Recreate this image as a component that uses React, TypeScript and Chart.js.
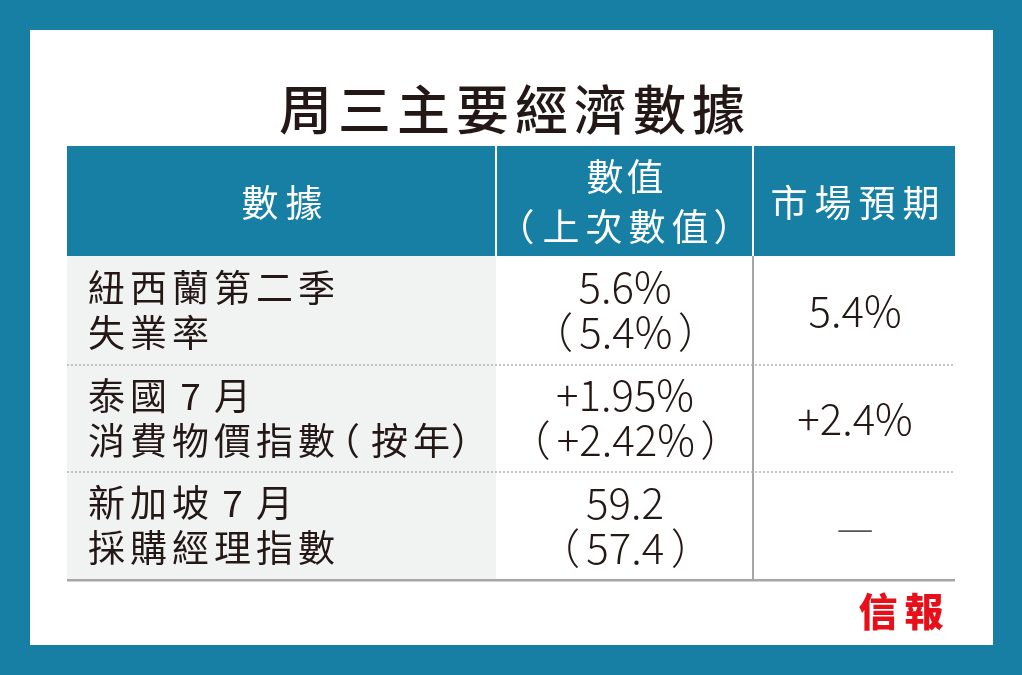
import React, { useEffect, useRef } from "react";
import { Chart, registerables } from "chart.js";

Chart.register(...registerables);

// ---- data ----
const title = "周三主要經濟數據";
const headerLabels = ["數據", "數值", "（上次數值）", "市場預期"];
const indicatorLine1 = ["紐西蘭第二季", "泰國7月", "新加坡7月"];
const indicatorLine2 = ["失業率", "消費物價指數（按年）", "採購經理指數"];
const actualValues = ["5.6%", "+1.95%", "59.2"];
const previousValues = ["（5.4%）", "（+2.42%）", "（57.4）"];
const forecastValues = ["5.4%", "+2.4%", "—"];
const sourceLabel = "信報";

// ---- style ----
const TEAL = "#167fa3";
const INK = "#231815";
const CJK = "'Noto Sans CJK TC', 'Noto Sans CJK SC', sans-serif";

type ParenOpts = { openBefore: number; openAfter: number; closeBefore: number };

function drawSpaced(
  ctx: CanvasRenderingContext2D,
  text: string,
  x: number,
  y: number,
  size: number,
  spacing: number,
  align: "left" | "center",
  po: ParenOpts = { openBefore: 13, openAfter: 12, closeBefore: 2 }
) {
  ctx.textAlign = "left";
  const chars = Array.from(text);
  const placed: { ch: string; x: number }[] = [];
  let prevEnd = 0;
  let noSpace = true;
  chars.forEach((ch, i) => {
    const m = ctx.measureText(ch);
    if (ch === "（" || ch === "）") {
      const inkW = m.actualBoundingBoxLeft + m.actualBoundingBoxRight;
      const before = i === 0 ? 0 : ch === "（" ? po.openBefore : po.closeBefore;
      const inkL = prevEnd + before;
      placed.push({ ch, x: inkL + m.actualBoundingBoxLeft });
      prevEnd = inkL + inkW + (ch === "（" ? po.openAfter : 0);
      noSpace = true;
    } else {
      const adv = ch.charCodeAt(0) < 128 ? size : m.width;
      const boxStart = prevEnd + (noSpace ? 0 : spacing);
      placed.push({ ch, x: boxStart + (adv - m.width) / 2 });
      prevEnd = boxStart + adv;
      noSpace = false;
    }
  });
  const start = align === "center" ? x - prevEnd / 2 : x;
  placed.forEach((p) => ctx.fillText(p.ch, start + p.x, y));
}

function drawNumber(ctx: CanvasRenderingContext2D, text: string, cx: number, y: number, gap: number) {
  ctx.textAlign = "left";
  if (!text.startsWith("（")) {
    const m = ctx.measureText(text);
    ctx.fillText(text, cx - m.width / 2, y);
    return;
  }
  const inner = text.slice(1, -1);
  const mo = ctx.measureText("（");
  const mi = ctx.measureText(inner);
  const mc = ctx.measureText("）");
  const wo = mo.actualBoundingBoxLeft + mo.actualBoundingBoxRight;
  const wi = mi.actualBoundingBoxLeft + mi.actualBoundingBoxRight;
  const wc = mc.actualBoundingBoxLeft + mc.actualBoundingBoxRight;
  const total = wo + gap + wi + gap + wc;
  let ink = cx - total / 2;
  ctx.fillText("（", ink + mo.actualBoundingBoxLeft, y);
  ink += wo + gap;
  ctx.fillText(inner, ink + mi.actualBoundingBoxLeft, y);
  ink += wi + gap;
  ctx.fillText("）", ink + mc.actualBoundingBoxLeft, y);
}

const tablePlugin = {
  id: "tablePlugin",
  beforeDraw(chart: any) {
    const ctx: CanvasRenderingContext2D = chart.ctx;
    const W = chart.width;
    const H = chart.height;
    ctx.save();
    // frame
    ctx.fillStyle = TEAL;
    ctx.fillRect(0, 0, W, H);
    ctx.fillStyle = "#ffffff";
    ctx.fillRect(30, 30, 963, 615);

    const L = 67, R = 955, C1 = 496, C2 = 753;
    const HT = 146, HB = 256;
    const rowTops = [256, 365, 472];
    const BOT = 580;

    // header
    ctx.fillStyle = TEAL;
    ctx.fillRect(L, HT, R - L, HB - HT);
    ctx.fillStyle = "#ffffff";
    ctx.fillRect(C1 - 1, HT, 2, HB - HT);
    ctx.fillRect(C2 - 1, HT, 2, HB - HT);

    // first column bg
    ctx.fillStyle = "#f1f2f2";
    ctx.fillRect(L, HB, C1 - L, BOT - HB);

    // dotted separators
    ctx.fillStyle = "#b0b0b0";
    [rowTops[1], rowTops[2]].forEach((yy) => {
      for (let xx = L; xx < R; xx += 4) {
        ctx.beginPath();
        ctx.arc(xx + 1, yy, 1, 0, Math.PI * 2);
        ctx.fill();
      }
    });
    // vertical line & bottom
    ctx.fillStyle = "#a6a6a6";
    ctx.fillRect(C2 - 1, HB, 2, BOT - HB);
    ctx.fillRect(L, BOT - 1, R - L, 2.5);

    ctx.textBaseline = "middle";
    // title
    ctx.fillStyle = INK;
    ctx.font = `500 53px ${CJK}`;
    drawSpaced(ctx, title, 512, 110, 53, 6, "center");

    // header text
    ctx.fillStyle = "#ffffff";
    ctx.font = `400 37px ${CJK}`;
    drawSpaced(ctx, headerLabels[0], 282, 203, 37, 7, "center");
    drawSpaced(ctx, headerLabels[1], 625, 177, 37, 3, "center");
    drawSpaced(ctx, headerLabels[2], 624, 227, 37, 6, "center", { openBefore: 0, openAfter: 9, closeBefore: 6 });
    drawSpaced(ctx, headerLabels[3], 855, 203, 37, 7, "center");

    // body
    const rowH = [109, 107, 108];
    indicatorLine1.forEach((_, i) => {
      const top = rowTops[i];
      const mid = top + rowH[i] / 2;
      ctx.fillStyle = INK;
      ctx.font = `400 37px ${CJK}`;
      drawSpaced(ctx, indicatorLine1[i], 88, mid - 23, 37, 5, "left");
      drawSpaced(ctx, indicatorLine2[i], 88, mid + 22, 37, 5, "left");
      ctx.font = `300 42px ${CJK}`;
      drawNumber(ctx, actualValues[i], 625, mid - 23, 8);
      drawNumber(ctx, previousValues[i], 625, mid + 22, 8);
      if (forecastValues[i] === "—") ctx.fillStyle = "#555555";
      drawNumber(ctx, forecastValues[i], 855, mid + 1, 8);
    });

    // source logo
    ctx.fillStyle = "#e60f1a";
    ctx.font = `900 39px ${CJK}`;
    drawSpaced(ctx, sourceLabel, 901, 611, 39, 7, "center");
    ctx.restore();
  },
};

export default function App() {
  const ref = useRef<HTMLCanvasElement | null>(null);
  useEffect(() => {
    document.body.style.margin = "0";
    if (!ref.current) return;
    const chart = new Chart(ref.current, {
      type: "bar",
      data: { labels: [], datasets: [] },
      options: {
        responsive: false,
        animation: false,
        devicePixelRatio: window.devicePixelRatio || 1,
        plugins: { legend: { display: false }, tooltip: { enabled: false } },
        scales: { x: { display: false }, y: { display: false } },
      },
      plugins: [tablePlugin],
    });
    const fontsReady = (document as any).fonts;
    if (fontsReady && fontsReady.load) {
      Promise.all([
        fontsReady.load(`400 36px 'Noto Sans CJK TC'`, "數據"),
        fontsReady.load(`300 42px 'Noto Sans CJK TC'`, "5.6%"),
      ]).then(() => chart.draw()).catch(() => {});
    }
    return () => chart.destroy();
  }, []);
  return (
    <div style={{ position: "fixed", left: 0, top: 0, width: 1022, height: 675 }}>
      <canvas ref={ref} width={1022} height={675} style={{ display: "block", width: 1022, height: 675 }} />
    </div>
  );
}
